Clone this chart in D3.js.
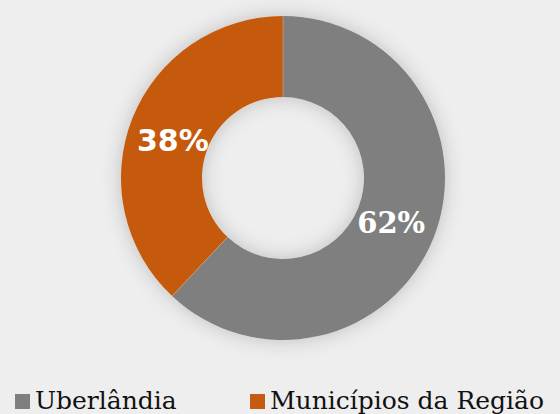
<!DOCTYPE html>
<html><head><meta charset="utf-8">
<script src="https://cdn.jsdelivr.net/npm/d3@7"></script>
<style>html,body{margin:0;padding:0;background:#eeeeee;}svg{display:block;}</style>
</head><body>
<svg id="chart" width="560" height="414"></svg>
<script>
const categories = ["Uberlândia", "Municípios da Região"];
const values = [62, 38];
const labels = ["62%", "38%"];
const colors = ["#7f7f7f", "#c55a11"];

const svg = d3.select("#chart");
const W = 560, H = 414;
svg.append("rect").attr("width", W).attr("height", H).attr("fill", "#eeeeee");

const defs = svg.append("defs");
const f = defs.append("filter").attr("id", "glow").attr("x", "-30%").attr("y", "-30%").attr("width", "160%").attr("height", "160%");
f.append("feGaussianBlur").attr("in", "SourceAlpha").attr("stdDeviation", 10).attr("result", "b");
f.append("feFlood").attr("flood-color", "#000").attr("flood-opacity", 0.2).attr("result", "c");
f.append("feComposite").attr("in", "c").attr("in2", "b").attr("operator", "in").attr("result", "s");
const m = f.append("feMerge");
m.append("feMergeNode").attr("in", "s");
m.append("feMergeNode").attr("in", "SourceGraphic");

const cx = 283, cy = 178, R = 162, r = 81;
const pie = d3.pie().sort(null).value(d => d)(values);
const arc = d3.arc().innerRadius(r).outerRadius(R);
const g = svg.append("g").attr("transform", `translate(${cx},${cy})`);
const ring = g.append("g").attr("filter", "url(#glow)");
ring.selectAll("path").data(pie).join("path")
  .attr("d", arc)
  .attr("fill", (d, i) => colors[i]);
// thin divider lines
g.selectAll("path.sep").data(pie).join("path").attr("class","sep")
  .attr("d", d => d3.line()([[r*Math.sin(d.startAngle), -r*Math.cos(d.startAngle)],[R*Math.sin(d.startAngle), -R*Math.cos(d.startAngle)]]))
  .attr("stroke", "#e8b894").attr("stroke-width", 0.8).attr("opacity", 0.6);

const labelArc = d3.arc().innerRadius(118.5).outerRadius(118.5);
const nudge = [[-2, 1], [0, 6]];
const fonts = ["'DejaVu Serif', serif", "'DejaVu Sans', Verdana, sans-serif"];
g.selectAll("text.lbl").data(pie).join("text").attr("class", "lbl")
  .attr("transform", (d, i) => { const c = labelArc.centroid(d); return `translate(${c[0] + nudge[i][0]},${c[1] + nudge[i][1]})`; })
  .attr("text-anchor", "middle")
  .attr("dy", "0.36em")
  .attr("fill", "#ffffff")
  .attr("font-weight", "bold")
  .attr("font-family", (d, i) => fonts[i])
  .attr("font-size", (d, i) => i === 0 ? 29 : 30)
  .text((d, i) => labels[i]);

// legend
const legX = [15, 250];
const lg = svg.append("g");
categories.forEach((c, i) => {
  const it = lg.append("g").attr("transform", `translate(${legX[i]},0)`);
  it.append("rect").attr("x", 0).attr("y", 394).attr("width", 15).attr("height", 15).attr("fill", colors[i]);
  it.append("text").attr("x", 20).attr("y", 409)
    .attr("font-family", "'DejaVu Serif', serif").attr("font-size", 25).attr("fill", "#111")
    .text(c);
});
</script>
</body></html>
